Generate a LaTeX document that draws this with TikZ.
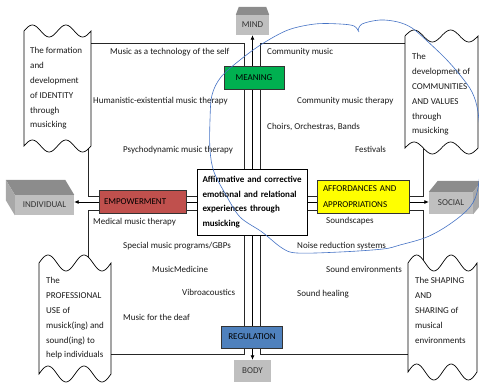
\documentclass[tikz,border=0pt]{standalone}
\usepackage{fontspec}
\setmainfont{Carlito}
\usetikzlibrary{arrows.meta}
\pgfdeclarelayer{bg}
\pgfsetlayers{bg,main}
\definecolor{meangreen}{HTML}{00B050}
\definecolor{empred}{HTML}{C0504D}
\definecolor{regblue}{HTML}{4F81BD}
\definecolor{affyellow}{HTML}{FFFF00}
\definecolor{cubefront}{HTML}{BFBFBF}
\definecolor{cubetop}{HTML}{8C8C8C}
\definecolor{cubeside}{HTML}{A8A8A8}
\definecolor{penblue}{HTML}{4472C4}
\newcommand{\mywavy}[5]{%
  \filldraw[wavestyle] plot[domain=0:1,samples=49,smooth] ({#1+\x*(#2-#1)},{#3-#5*sin(720*\x)})
   -- plot[domain=1:0,samples=49,smooth] ({#1+\x*(#2-#1)},{#4-#5*sin(720*\x)}) -- cycle;}
\begin{document}
\begin{tikzpicture}[x=1pt,y=-1pt,
  font=\fontsize{9}{14.8}\selectfont,
  quad/.style={draw=black!85, line width=0.8pt},
  flow/.style={draw=black, line width=0.8pt, -{Latex[length=4.5pt,width=4pt]}},
  colbox/.style={draw=black!80, line width=0.7pt, inner sep=0pt, text=black},
  lab/.style={inner sep=0pt, anchor=west, text height=6pt, text depth=2pt, text=black!90},
  wavestyle/.style={draw=black, fill=white, line width=0.7pt},
  wavetext/.style={inner sep=0pt, anchor=north west, align=left, text=black!90},
  cubeface/.style={fill=cubefront, inner sep=0pt, text=black!80}]
\useasboundingbox (0,0) rectangle (479,385);

% central box and coloured boxes
\node[draw=black, line width=0.7pt, fill=white, minimum width=110pt, minimum height=66pt,
  text width=100pt, inner xsep=5pt, inner ysep=0pt, align=left,
  font=\bfseries\fontsize{9}{14.5}\selectfont] (core) at (252.5,202)
  {Affirmative and corrective\\emotional and relational\\experiences through\\musicking};
\node[colbox, fill=meangreen, minimum width=60pt, minimum height=23pt] (meaning) at (254,78) {MEANING};
\node[colbox, fill=empred, minimum width=87pt, minimum height=23pt, text width=77pt, inner xsep=5pt, align=left] (emp) at (142.5,201.5) {EMPOWERMENT};
\node[colbox, fill=affyellow, minimum width=92pt, minimum height=33pt, text width=80pt, inner xsep=6pt, align=left,
  font=\fontsize{9}{16}\selectfont] (aff) at (363,196.5) {AFFORDANCES AND\\APPROPRIATIONS};
\node[colbox, fill=regblue, minimum width=61pt, minimum height=22pt] (reg) at (252,337) {REGULATION};

% grey blocks
\node[cubeface, minimum width=33pt, minimum height=20pt] (mind) at (252.5,25) {MIND};
\fill[cubetop] (mind.north west) -- ++(3,-8) -- ([shift={(-3,-8)}]mind.north east) -- (mind.north east) -- cycle;
\node[cubeface, minimum width=37pt, minimum height=22pt] (body) at (252.5,371) {BODY};
\node[cubeface, minimum width=59pt, minimum height=20pt] (ind) at (44.5,205) {INDIVIDUAL};
\fill[cubetop] (ind.north west) -- ++(-9,-15) -- ([shift={(-9,-15)}]ind.north east) -- (ind.north east) -- cycle;
\fill[cubeside] (ind.north west) -- ++(-9,-15) -- ([shift={(-9,-15)}]ind.south west) -- (ind.south west) -- cycle;
\node[cubeface, minimum width=44pt, minimum height=22pt] (soc) at (451,203) {SOCIAL};
\fill[cubetop] (soc.north west) -- ++(9,-11) -- ([shift={(9,-11)}]soc.north east) -- (soc.north east) -- cycle;
\fill[cubeside] (soc.north east) -- ++(9,-11) -- ([shift={(9,-11)}]soc.south east) -- (soc.south east) -- cycle;

% quadrant frames and arrows underneath
\begin{pgfonlayer}{bg}
\draw[quad] (88,43) rectangle (244.5,196);
\draw[quad] (260.5,43) rectangle (423,196);
\draw[quad] (88,210) rectangle (244.5,354);
\draw[quad] (260.5,210) rectangle (423,354);
\draw[flow] (core.north) -- (mind.south);
\draw[flow] (core.south) -- (body.north);
\draw[flow] (core.west) -- (core.west -| ind.east);
\draw[flow] (core.east) -- (core.east -| soc.west);
\end{pgfonlayer}

% labels
\node[lab] (l1) at (110,53) {Music as a technology of the self};
\node[lab] (l2) at (93,102) {Humanistic-existential music therapy};
\node[lab] (l3) at (123,151) {Psychodynamic music therapy};
\node[lab] (r1) at (267,53) {Community music};
\node[lab] (r2) at (297,102) {Community music therapy};
\node[lab] (r3) at (267,127) {Choirs, Orchestras, Bands};
\node[lab] (r4) at (355,151) {Festivals};
\node[lab] (b1) at (93,222) {Medical music therapy};
\node[lab] (b2) at (123,246) {Special music programs/GBPs};
\node[lab] (b3) at (152,270) {MusicMedicine};
\node[lab] (b4) at (182,293) {Vibroacoustics};
\node[lab] (b5) at (123,318) {Music for the deaf};
\node[lab] (s1) at (326,221) {Soundscapes};
\node[lab] (s2) at (297,246) {Noise reduction systems};
\node[lab] (s3) at (326,270) {Sound environments};
\node[lab] (s4) at (297,294) {Sound healing};

% wavy boxes
\mywavy{24}{91}{31}{146}{6}
\node[wavetext] (wtl) at (30,47.5) {The formation\\and\\development\\of IDENTITY\\through\\musicking};
\mywavy{405}{478}{36}{148}{6}
\node[wavetext] (wtr) at (412,53.5) {The\\development of\\COMMUNITIES\\AND VALUES\\through\\musicking};
\mywavy{39}{111}{263}{374}{8}
\node[wavetext] (wbl) at (46,277.5) {The\\PROFESSIONAL\\USE of\\musick(ing) and\\sound(ing) to\\help individuals};
\mywavy{408}{477}{263}{372}{8}
\node[wavetext] (wbr) at (415,277.5) {The SHAPING\\AND\\SHARING of\\musical\\environments};

% hand-drawn blue loop
\draw[penblue, line width=0.6pt] plot[smooth, tension=0.55] coordinates {
 (358,31) (362,24) (380,20) (398,22) (412,28) (426,40) (445,58) (460,75) (472,92) (478,112)
 (481,150) (478,188) (470,207) (450,224) (427,237) (400,245) (383,249) (340,252) (297,253)
 (282,248) (262,232) (240,217) (226,195) (214,172) (210,150) (210,120) (212,95) (221,77)
 (240,60) (262,44) (288,30) (315,24) (340,24) (354,26) (359,32)};
\end{tikzpicture}
\end{document}
